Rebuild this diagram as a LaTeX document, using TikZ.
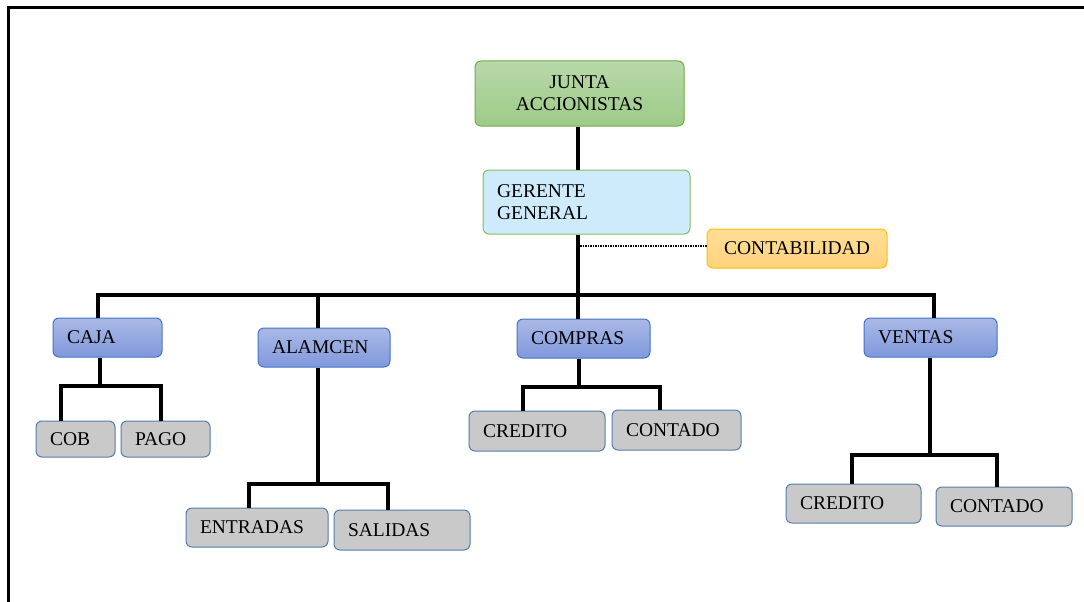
\documentclass[tikz,border=0pt]{standalone}
\usepackage{fontspec}
\setmainfont{Liberation Serif}
\begin{document}
\begin{tikzpicture}[x=1pt,y=-1pt,
  base/.style={rounded corners=6pt, line width=1pt, inner xsep=14pt, inner ysep=0pt,
    font=\fontsize{19.5}{22}\selectfont, text=black, align=left},
  greenbox/.style={base, draw={rgb,255:red,112;green,173;blue,71}, top color={rgb,255:red,184;green,216;blue,170}, bottom color={rgb,255:red,157;green,203;blue,135}, align=center},
  bluelight/.style={base, draw={rgb,255:red,130;green,190;blue,100}, fill={rgb,255:red,206;green,235;blue,252}},
  orangebox/.style={base, draw={rgb,255:red,255;green,192;blue,0}, top color={rgb,255:red,255;green,222;blue,150}, bottom color={rgb,255:red,255;green,210;blue,125}, align=center},
  bluebox/.style={base, draw={rgb,255:red,68;green,114;blue,196}, top color={rgb,255:red,170;green,185;blue,230}, bottom color={rgb,255:red,128;green,153;blue,220}},
  graybox/.style={base, draw={rgb,255:red,84;green,126;blue,172}, fill={rgb,255:red,201;green,201;blue,201}},
  conn/.style={line width=3.2pt, black},
]
\useasboundingbox (0,0) rectangle (1084,602);
\fill[white] (0,0) rectangle (1084,602);
\draw[line width=3pt] (1084,8) -- (8,8) -- (8,602);

% boxes: center, width, height
\node[greenbox, minimum width=209, minimum height=65, text width=181] (junta) at (579.5,93.5) {JUNTA\\ACCIONISTAS};
\node[bluelight, minimum width=207, minimum height=64, text width=179] (gerente) at (586.5,202) {GERENTE\\GENERAL};
\node[orangebox, minimum width=180, minimum height=39, text width=152] (contab) at (797,248.5) {CONTABILIDAD};

\node[bluebox, minimum width=109, minimum height=39, text width=81] (caja) at (107.5,337.5) {CAJA};
\node[bluebox, minimum width=132, minimum height=39, text width=104] (alm) at (324,347.5) {ALAMCEN};
\node[bluebox, minimum width=133, minimum height=39, text width=105] (compras) at (583.5,338.5) {COMPRAS};
\node[bluebox, minimum width=133, minimum height=39, text width=105] (ventas) at (930.5,337.5) {VENTAS};

\node[graybox, minimum width=79, minimum height=36, text width=51] (cob) at (75.5,439) {COB};
\node[graybox, minimum width=89, minimum height=36, text width=61] (pago) at (165.5,439) {PAGO};
\node[graybox, minimum width=142, minimum height=39, text width=114] (entr) at (257,527.5) {ENTRADAS};
\node[graybox, minimum width=136, minimum height=40, text width=108] (sal) at (402,530) {SALIDAS};
\node[graybox, minimum width=136, minimum height=40, text width=108] (cred1) at (537,431) {CREDITO};
\node[graybox, minimum width=129, minimum height=40, text width=101] (cont1) at (676.5,430) {CONTADO};
\node[graybox, minimum width=135, minimum height=39, text width=107] (cred2) at (853.5,503.5) {CREDITO};
\node[graybox, minimum width=136, minimum height=39, text width=108] (cont2) at (1004,506.5) {CONTADO};

% coordinates
\coordinate (stem) at (578,295);
\coordinate (busL) at (98,295);
\coordinate (busA) at (318,295);
\coordinate (busR) at (934,295);
\coordinate (dashS) at (580,246);
\coordinate (cajaJ) at (100,386);
\coordinate (cobT) at (61,386);
\coordinate (pagoT) at (161,386);
\coordinate (almJ) at (318,484);
\coordinate (entrT) at (249,484);
\coordinate (salT) at (388,484);
\coordinate (compJ) at (579,387);
\coordinate (cred1T) at (523,387);
\coordinate (cont1T) at (660,387);
\coordinate (ventJ) at (930,455);
\coordinate (cred2T) at (852,455);
\coordinate (cont2T) at (997,455);

% connectors
\draw[conn] (junta.south -| stem) -- (gerente.north -| stem);
\draw[conn] (gerente.south -| stem) -- (stem);
\draw[line width=1.6pt, dash pattern=on 1.5pt off 1pt] (dashS) -- (contab.west |- dashS);
\draw[conn] (caja.north -| busL) -- (busL) -- (busR) -- (ventas.north -| busR);
\draw[conn] (busA) -- (alm.north -| busA);
\draw[conn] (stem) -- (compras.north -| stem);

\draw[conn] (caja.south -| cajaJ) -- (cajaJ);
\draw[conn] (cob.north -| cobT) -- (cobT) -- (pagoT) -- (pago.north -| pagoT);

\draw[conn] (alm.south -| almJ) -- (almJ);
\draw[conn] (entr.north -| entrT) -- (entrT) -- (salT) -- (sal.north -| salT);

\draw[conn] (compras.south -| compJ) -- (compJ);
\draw[conn] (cred1.north -| cred1T) -- (cred1T) -- (cont1T) -- (cont1.north -| cont1T);

\draw[conn] (ventas.south -| ventJ) -- (ventJ);
\draw[conn] (cred2.north -| cred2T) -- (cred2T) -- (cont2T) -- (cont2.north -| cont2T);
\end{tikzpicture}
\end{document}
